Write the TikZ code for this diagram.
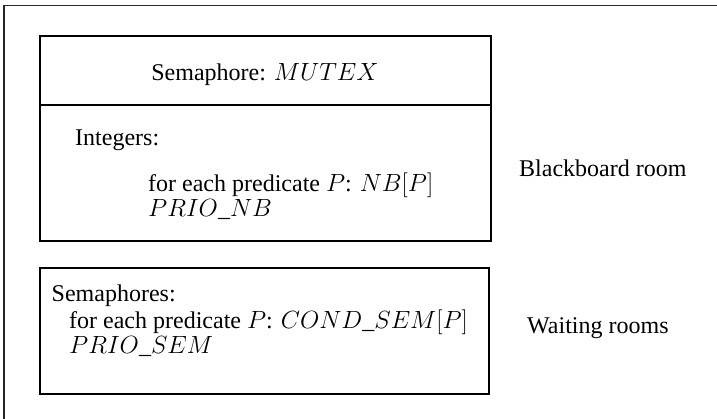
\documentclass[tikz,border=0pt]{standalone}
\usepackage{fontspec}
\setmainfont{Liberation Serif}
\begin{document}
\begin{tikzpicture}[x=1pt,y=-1pt,
  roombox/.style={draw=black,line width=1.7pt},
  frameline/.style={draw=black!85,line width=1.3pt},
  txt/.style={anchor=west,inner sep=0pt,font=\fontsize{24}{28}\selectfont},
  ctxt/.style={anchor=center,inner sep=0pt,font=\fontsize{24}{28}\selectfont}]
\useasboundingbox (0,0) rectangle (717,418);
% outer frame (open on the right and at the bottom)
\draw[frameline] (4,420) -- (4,5.5) -- (719,5.5);
% blackboard room
\draw[roombox] (40,36) rectangle (491,241);
\draw[roombox] (40,105) -- (491,105);
\node[ctxt] (mutex) at (265,75) {Semaphore: $MUTEX$};
\node[txt] (ints) at (75,140.5) {Integers:};
\node[txt] (nb) at (148,185) {for each predicate $P$: $NB[P]$};
\node[txt] (prionb) at (148,210) {$PRIO\_NB$};
\node[txt] (bb) at (519,168) {Blackboard room};
% waiting rooms
\draw[roombox] (40,268) rectangle (489,394);
\node[txt] (sems) at (51.5,296) {Semaphores:};
\node[txt] (cond) at (69,322) {for each predicate $P$: $COND\_SEM[P]$};
\node[txt] (priosem) at (69,346.5) {$PRIO\_SEM$};
\node[txt] (wait) at (527,328.5) {Waiting rooms};
\end{tikzpicture}
\end{document}
